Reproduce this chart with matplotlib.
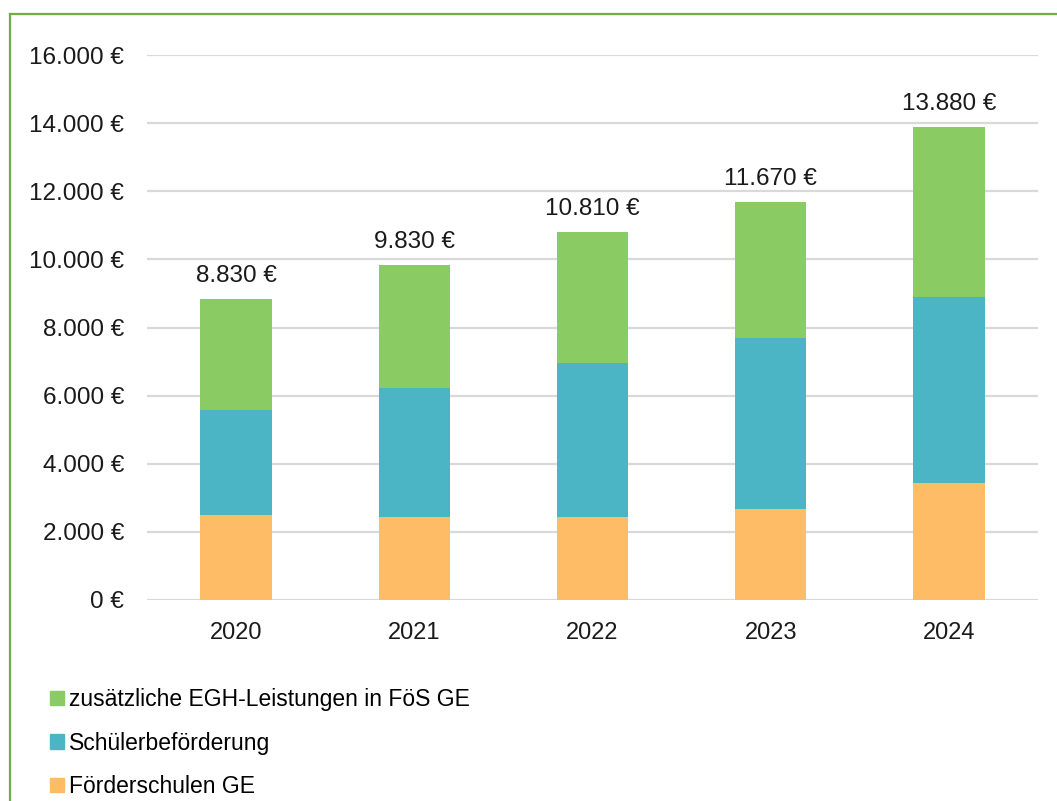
import matplotlib
matplotlib.use("Agg")
import matplotlib.pyplot as plt
from matplotlib.lines import Line2D
from matplotlib.patches import Patch
import numpy as np

years = ["2020", "2021", "2022", "2023", "2024"]
foerderschulen = [2490, 2440, 2440, 2680, 3430]
schuelerbefoerderung = [3090, 3780, 4520, 5010, 5460]
egh_leistungen = [3250, 3610, 3850, 3980, 4990]
totals = [8830, 9830, 10810, 11670, 13880]
yticks = [0, 2000, 4000, 6000, 8000, 10000, 12000, 14000, 16000]

labels = ["zusätzliche EGH-Leistungen in FöS GE", "Schülerbeförderung", "Förderschulen GE"]
c_green = "#8BCB63"
c_blue = "#4BB4C5"
c_orange = "#FEBC66"

plt.rcParams['font.family'] = ['Liberation Sans', 'DejaVu Sans']

def fmt(v):
    return f"{v:,.0f}".replace(",", ".") + " €"

fig = plt.figure(figsize=(10.57, 8.01), dpi=100)
ax = fig.add_axes([147/1057, 1-600/801, (1038-147)/1057, (600-55)/801])

x = np.arange(len(years))
w = 0.4
ax.bar(x, foerderschulen, w, color=c_orange, zorder=3)
b2 = np.array(foerderschulen)
ax.bar(x, schuelerbefoerderung, w, bottom=b2, color=c_blue, zorder=3)
b3 = b2 + np.array(schuelerbefoerderung)
ax.bar(x, egh_leistungen, w, bottom=b3, color=c_green, zorder=3)

for xi, t in zip(x, totals):
    ax.text(xi, t + 360, fmt(t), ha="center", va="bottom", fontsize=17.5, color="#1a1a1a")

ax.set_xlim(-0.5, len(years) - 0.5)
ax.set_ylim(0, 16000)
ax.set_yticks(yticks)
ax.set_yticklabels([fmt(v) for v in yticks], fontsize=17.5, color="#1a1a1a")
ax.set_xticks(x)
ax.set_xticklabels(years, fontsize=17, color="#1a1a1a")
ax.tick_params(axis="both", length=0)
ax.tick_params(axis="y", pad=16.5)
ax.tick_params(axis="x", pad=16)
for s in ax.spines.values():
    s.set_visible(False)
ax.yaxis.grid(True, color="#D9D9D9", linewidth=1.6, zorder=0)
ax.set_axisbelow(True)

handles = [Patch(color=c_green), Patch(color=c_blue), Patch(color=c_orange)]
fig.legend(handles, labels, loc="upper left", bbox_to_anchor=(50/1057, 1-688/801),
           frameon=False, fontsize=16.5, handlelength=0.6, handleheight=0.6,
           handletextpad=0.25, labelspacing=0.9, borderaxespad=0, borderpad=0)

fig.add_artist(Line2D([10/1057, 10/1057], [0, 1-14/801], transform=fig.transFigure,
                      color="#70AD47", linewidth=1.6))
fig.add_artist(Line2D([10/1057, 1], [1-14/801, 1-14/801], transform=fig.transFigure,
                      color="#70AD47", linewidth=1.6))

fig.savefig("out.png", dpi=100)
